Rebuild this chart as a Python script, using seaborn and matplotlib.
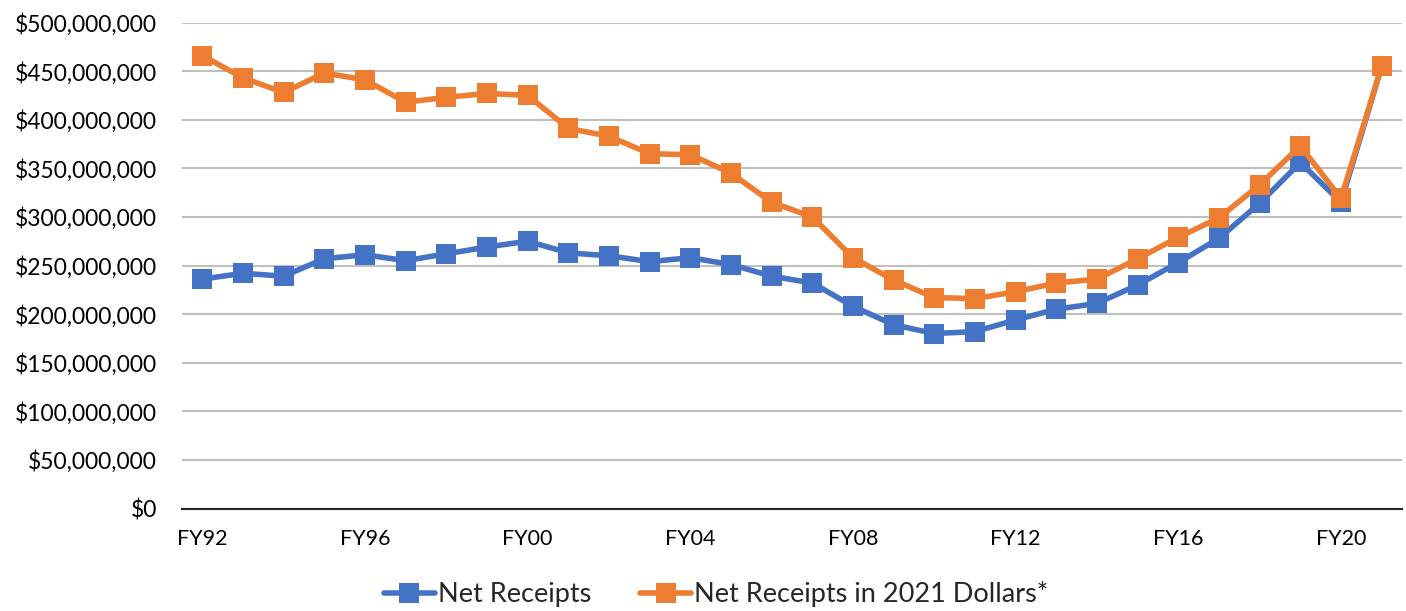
import matplotlib
matplotlib.use("Agg")
import matplotlib.pyplot as plt
import seaborn as sns
import pandas as pd
from matplotlib.ticker import FuncFormatter, MultipleLocator

years = ["FY92", "FY93", "FY94", "FY95", "FY96", "FY97", "FY98", "FY99", "FY00", "FY01",
         "FY02", "FY03", "FY04", "FY05", "FY06", "FY07", "FY08", "FY09", "FY10", "FY11",
         "FY12", "FY13", "FY14", "FY15", "FY16", "FY17", "FY18", "FY19", "FY20", "FY21"]
net_receipts = [236, 242, 239, 257, 261, 255, 262, 269, 275, 263,
                260, 254, 258, 251, 239, 232, 208, 189, 180, 182,
                194, 205, 211, 230, 253, 278, 314, 356, 315, 455]
net_receipts_2021 = [466, 443, 428, 448, 441, 418, 423, 427, 425, 391,
                     383, 365, 364, 345, 315, 300, 258, 235, 217, 216,
                     223, 232, 236, 257, 279, 299, 333, 373, 319, 455]
series_names = ["Net Receipts", "Net Receipts in 2021 Dollars*"]
colors = ["#4472C4", "#ED7D31"]

df = pd.DataFrame({
    "idx": list(range(len(years))) * 2,
    "value": [v * 1e6 for v in net_receipts] + [v * 1e6 for v in net_receipts_2021],
    "series": [series_names[0]] * len(years) + [series_names[1]] * len(years),
})

sns.set_style("white")
plt.rcParams["font.family"] = ["Lato", "DejaVu Sans"]

W, H = 1406, 611
fig = plt.figure(figsize=(W / 100, H / 100), dpi=100)
ax = fig.add_axes([182 / W, 1 - 508.5 / H, (1402 - 182) / W, (508.5 - 22.5) / H])

for name, col in zip(series_names, colors):
    sub = df[df["series"] == name]
    sns.lineplot(data=sub, x="idx", y="value", ax=ax, color=col, linewidth=4.0,
                 marker="s", markersize=14.5, markeredgewidth=0, label=name, zorder=3)

ax.set_xlim(-0.5, len(years) - 0.5)
ax.set_ylim(0, 500e6)
ax.yaxis.set_major_locator(MultipleLocator(50e6))
ax.yaxis.set_major_formatter(FuncFormatter(lambda v, p: "${:,.0f}".format(v)))
ax.set_xticks(range(0, len(years), 4))
ax.set_xticklabels(years[::4])
ax.set_xlabel("")
ax.set_ylabel("")
ax.grid(axis="y", color="#BFBFBF", linewidth=1.5)
ax.grid(axis="x", visible=False)
for s in ["top", "right", "left"]:
    ax.spines[s].set_visible(False)
ax.spines["bottom"].set_color("#262626")
ax.spines["bottom"].set_linewidth(1.5)
ax.tick_params(axis="y", length=0, labelsize=16.5, colors="black", pad=18)
ax.tick_params(axis="x", length=0, labelsize=15.5, colors="black", pad=15)

handles, labels = ax.get_legend_handles_labels()
ax.get_legend().remove()
fig.legend(handles, labels, loc="center", bbox_to_anchor=(716 / W, 1 - 594 / H), ncol=2,
           frameon=False, fontsize=19.5, handlelength=1.9, columnspacing=1.8,
           handletextpad=0.1, borderaxespad=0, borderpad=0)

fig.savefig("out.png", dpi=100)
